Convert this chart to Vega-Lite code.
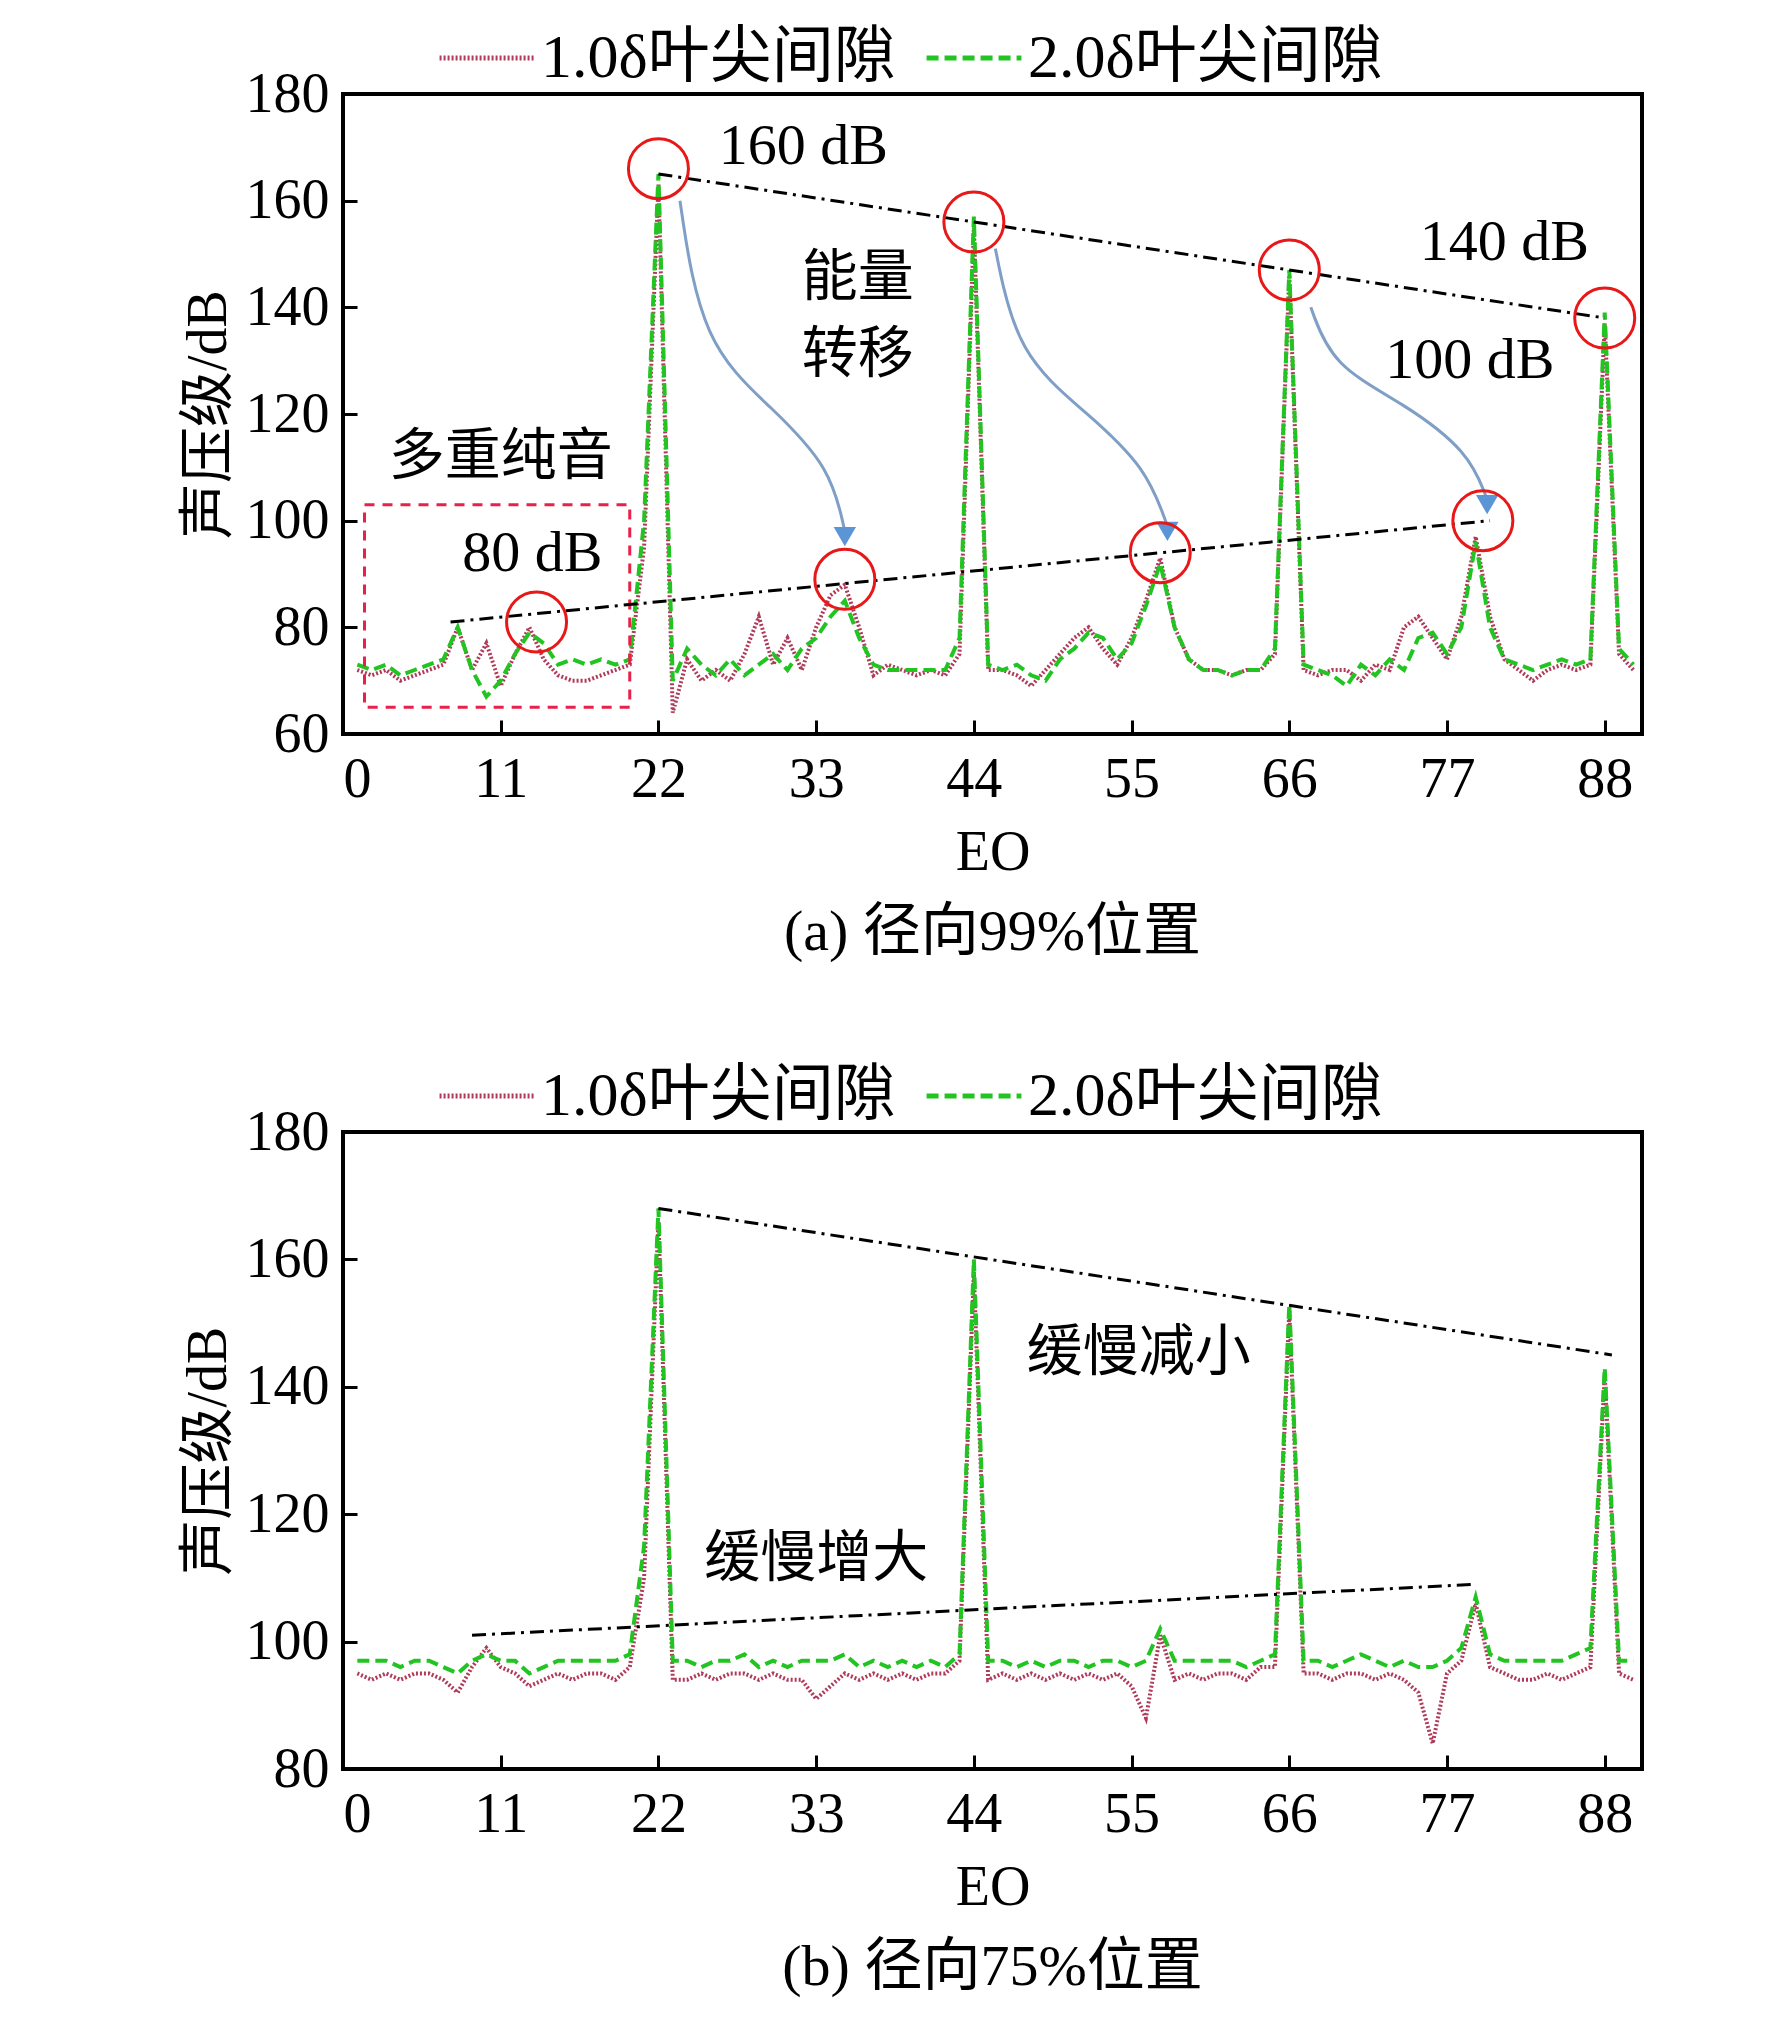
{
  "$schema": "https://vega.github.io/schema/vega-lite/v6.json",
  "background": "white",
  "padding": {"left": 178, "top": 6, "right": 20, "bottom": 10},
  "config": {
    "font": "Liberation Serif, Noto Sans CJK SC",
    "view": {"stroke": "black", "strokeWidth": 4},
    "axis": {"labelFont": "Liberation Serif", "titleFont": "Liberation Serif, Noto Sans CJK SC", "labelFontSize": 56, "titleFontSize": 56, "titleFontWeight": "normal", "labelColor": "black", "titleColor": "black", "domain": false, "grid": false, "tickColor": "black", "tickWidth": 3, "tickSize": -14, "labelPadding": 28, "titlePadding": 8},
    "axisX": {"labelPadding": 32, "titlePadding": 18},
    "legend": {"orient": "none", "legendX": 94, "legendY": -86, "direction": "horizontal", "labelFont": "Liberation Serif, Noto Sans CJK SC", "labelFontSize": 62, "labelLimit": 0, "title": null, "symbolType": "stroke", "symbolSize": 9000, "symbolStrokeWidth": 5, "columnPadding": 20, "padding": 0},
    "title": {"font": "Liberation Serif, Noto Sans CJK SC", "fontSize": 58, "fontWeight": "normal", "orient": "bottom", "offset": 24, "color": "black"}
  },
  "datasets": {
    "a": [
      {"eo":1,"r":72,"g":73},{"eo":2,"r":71,"g":72},{"eo":3,"r":72,"g":73},{"eo":4,"r":70,"g":71},{"eo":5,"r":71,"g":72},{"eo":6,"r":72,"g":73},{"eo":7,"r":73,"g":74},{"eo":8,"r":80,"g":80},{"eo":9,"r":72,"g":72},{"eo":10,"r":77,"g":67},{"eo":11,"r":69,"g":70},{"eo":12,"r":75,"g":75},{"eo":13,"r":80,"g":79},{"eo":14,"r":74,"g":77},{"eo":15,"r":71,"g":73},{"eo":16,"r":70,"g":74},{"eo":17,"r":70,"g":73},{"eo":18,"r":71,"g":74},{"eo":19,"r":72,"g":73},{"eo":20,"r":73,"g":74},{"eo":21,"r":95,"g":100},{"eo":22,"r":163,"g":165},{"eo":23,"r":64,"g":70},{"eo":24,"r":74,"g":76},{"eo":25,"r":70,"g":73},{"eo":26,"r":72,"g":71},{"eo":27,"r":70,"g":74},{"eo":28,"r":75,"g":71},{"eo":29,"r":82,"g":73},{"eo":30,"r":73,"g":75},{"eo":31,"r":78,"g":72},{"eo":32,"r":72,"g":76},{"eo":33,"r":80,"g":78},{"eo":34,"r":86,"g":82},{"eo":35,"r":88,"g":85},{"eo":36,"r":80,"g":78},{"eo":37,"r":71,"g":73},{"eo":38,"r":73,"g":72},{"eo":39,"r":72,"g":72},{"eo":40,"r":71,"g":72},{"eo":41,"r":72,"g":72},{"eo":42,"r":71,"g":72},{"eo":43,"r":75,"g":78},{"eo":44,"r":155,"g":157},{"eo":45,"r":72,"g":73},{"eo":46,"r":72,"g":72},{"eo":47,"r":71,"g":73},{"eo":48,"r":69,"g":71},{"eo":49,"r":72,"g":70},{"eo":50,"r":75,"g":74},{"eo":51,"r":78,"g":76},{"eo":52,"r":80,"g":79},{"eo":53,"r":76,"g":78},{"eo":54,"r":73,"g":74},{"eo":55,"r":78,"g":77},{"eo":56,"r":85,"g":84},{"eo":57,"r":93,"g":92},{"eo":58,"r":80,"g":80},{"eo":59,"r":74,"g":74},{"eo":60,"r":72,"g":72},{"eo":61,"r":72,"g":72},{"eo":62,"r":71,"g":71},{"eo":63,"r":72,"g":72},{"eo":64,"r":72,"g":72},{"eo":65,"r":75,"g":76},{"eo":66,"r":146,"g":147},{"eo":67,"r":72,"g":73},{"eo":68,"r":71,"g":72},{"eo":69,"r":72,"g":71},{"eo":70,"r":72,"g":69},{"eo":71,"r":70,"g":73},{"eo":72,"r":73,"g":71},{"eo":73,"r":72,"g":74},{"eo":74,"r":80,"g":72},{"eo":75,"r":82,"g":78},{"eo":76,"r":78,"g":79},{"eo":77,"r":74,"g":75},{"eo":78,"r":82,"g":80},{"eo":79,"r":97,"g":96},{"eo":80,"r":82,"g":80},{"eo":81,"r":74,"g":74},{"eo":82,"r":72,"g":73},{"eo":83,"r":70,"g":72},{"eo":84,"r":72,"g":73},{"eo":85,"r":73,"g":74},{"eo":86,"r":72,"g":73},{"eo":87,"r":73,"g":74},{"eo":88,"r":137,"g":139},{"eo":89,"r":75,"g":76},{"eo":90,"r":72,"g":73}
    ],
    "b": [
      {"eo":1,"r":95,"g":97},{"eo":2,"r":94,"g":97},{"eo":3,"r":95,"g":97},{"eo":4,"r":94,"g":96},{"eo":5,"r":95,"g":97},{"eo":6,"r":95,"g":97},{"eo":7,"r":94,"g":96},{"eo":8,"r":92,"g":95},{"eo":9,"r":96,"g":97},{"eo":10,"r":99,"g":98},{"eo":11,"r":96,"g":97},{"eo":12,"r":95,"g":97},{"eo":13,"r":93,"g":95},{"eo":14,"r":94,"g":96},{"eo":15,"r":95,"g":97},{"eo":16,"r":94,"g":97},{"eo":17,"r":95,"g":97},{"eo":18,"r":95,"g":97},{"eo":19,"r":94,"g":97},{"eo":20,"r":96,"g":98},{"eo":21,"r":110,"g":115},{"eo":22,"r":166,"g":168},{"eo":23,"r":94,"g":97},{"eo":24,"r":94,"g":97},{"eo":25,"r":95,"g":96},{"eo":26,"r":94,"g":97},{"eo":27,"r":95,"g":97},{"eo":28,"r":95,"g":98},{"eo":29,"r":94,"g":96},{"eo":30,"r":95,"g":97},{"eo":31,"r":94,"g":96},{"eo":32,"r":94,"g":97},{"eo":33,"r":91,"g":97},{"eo":34,"r":93,"g":97},{"eo":35,"r":95,"g":98},{"eo":36,"r":94,"g":96},{"eo":37,"r":95,"g":97},{"eo":38,"r":94,"g":96},{"eo":39,"r":95,"g":97},{"eo":40,"r":94,"g":96},{"eo":41,"r":95,"g":97},{"eo":42,"r":95,"g":96},{"eo":43,"r":97,"g":98},{"eo":44,"r":158,"g":160},{"eo":45,"r":94,"g":97},{"eo":46,"r":95,"g":97},{"eo":47,"r":94,"g":96},{"eo":48,"r":95,"g":97},{"eo":49,"r":94,"g":96},{"eo":50,"r":95,"g":97},{"eo":51,"r":94,"g":97},{"eo":52,"r":95,"g":96},{"eo":53,"r":94,"g":97},{"eo":54,"r":95,"g":97},{"eo":55,"r":93,"g":96},{"eo":56,"r":88,"g":97},{"eo":57,"r":101,"g":102},{"eo":58,"r":94,"g":97},{"eo":59,"r":95,"g":97},{"eo":60,"r":94,"g":97},{"eo":61,"r":95,"g":97},{"eo":62,"r":95,"g":97},{"eo":63,"r":94,"g":96},{"eo":64,"r":96,"g":97},{"eo":65,"r":96,"g":98},{"eo":66,"r":152,"g":153},{"eo":67,"r":95,"g":97},{"eo":68,"r":95,"g":97},{"eo":69,"r":94,"g":96},{"eo":70,"r":95,"g":97},{"eo":71,"r":95,"g":98},{"eo":72,"r":94,"g":97},{"eo":73,"r":95,"g":96},{"eo":74,"r":94,"g":97},{"eo":75,"r":92,"g":96},{"eo":76,"r":84,"g":96},{"eo":77,"r":95,"g":97},{"eo":78,"r":97,"g":99},{"eo":79,"r":106,"g":107},{"eo":80,"r":96,"g":98},{"eo":81,"r":95,"g":97},{"eo":82,"r":94,"g":97},{"eo":83,"r":94,"g":97},{"eo":84,"r":95,"g":97},{"eo":85,"r":94,"g":97},{"eo":86,"r":95,"g":98},{"eo":87,"r":96,"g":99},{"eo":88,"r":142,"g":143},{"eo":89,"r":95,"g":97},{"eo":90,"r":94,"g":97}
    ]
  },
  "vconcat": [
    {
      "width": 1299, "height": 640,
      "title": "(a) 径向99%位置",
      "layer": [
        {
          "data": {"name": "a"},
          "transform": [{"fold": ["r", "g"], "as": ["s", "v"]}, {"calculate": "datum.s == 'r' ? '1.0δ叶尖间隙' : '2.0δ叶尖间隙'", "as": "series"}],
          "mark": {"type": "line", "strokeWidth": 4, "clip": true},
          "encoding": {
            "x": {"field": "eo", "type": "quantitative", "scale": {"domain": [0, 90.6], "nice": false}, "axis": {"values": [0,11,22,33,44,55,66,77,88]}, "title": "EO"},
            "y": {"field": "v", "type": "quantitative", "scale": {"domain": [60, 180], "nice": false}, "axis": {"values": [60,80,100,120,140,160,180]}, "title": "声压级/dB"},
            "color": {"field": "series", "type": "nominal", "scale": {"domain": ["1.0δ叶尖间隙", "2.0δ叶尖间隙"], "range": ["#b03a5a", "#22c422"]}},
            "strokeDash": {"field": "series", "type": "nominal", "scale": {"domain": ["1.0δ叶尖间隙", "2.0δ叶尖间隙"], "range": [[2, 2], [12, 6]]}}
          }
        },
        {
          "data": {"values": [{"x": 1.5, "x2": 20, "y": 65, "y2": 103}]},
          "mark": {"type": "rect", "fill": null, "stroke": "#e8204a", "strokeWidth": 3, "strokeDash": [10, 8]},
          "encoding": {"x": {"field": "x", "type": "quantitative"}, "x2": {"field": "x2"}, "y": {"field": "y", "type": "quantitative"}, "y2": {"field": "y2"}}
        },
        {
          "data": {"values": [{"k": "u", "x": 22, "y": 165}, {"k": "u", "x": 88, "y": 138}, {"k": "l", "x": 7.5, "y": 81}, {"k": "l", "x": 80, "y": 100}]},
          "mark": {"type": "line", "color": "black", "strokeWidth": 3, "strokeDash": [14, 6, 3, 6]},
          "encoding": {"x": {"field": "x", "type": "quantitative"}, "y": {"field": "y", "type": "quantitative"}, "detail": {"field": "k"}}
        },
        {
          "data": {"values": [{"k": 1, "o": 0, "x": 23.5, "y": 160}, {"k": 1, "o": 1, "x": 25, "y": 133}, {"k": 1, "o": 2, "x": 30, "y": 121}, {"k": 1, "o": 3, "x": 34, "y": 110}, {"k": 1, "o": 4, "x": 35, "y": 98},
            {"k": 2, "o": 0, "x": 45.5, "y": 151}, {"k": 2, "o": 1, "x": 47, "y": 131}, {"k": 2, "o": 2, "x": 52, "y": 120}, {"k": 2, "o": 3, "x": 56, "y": 110}, {"k": 2, "o": 4, "x": 57.5, "y": 99},
            {"k": 3, "o": 0, "x": 67.5, "y": 140}, {"k": 3, "o": 1, "x": 69, "y": 129}, {"k": 3, "o": 2, "x": 74, "y": 122}, {"k": 3, "o": 3, "x": 78.5, "y": 113}, {"k": 3, "o": 4, "x": 79.8, "y": 104}]},
          "mark": {"type": "line", "color": "#7f9fc6", "strokeWidth": 3, "interpolate": "basis"},
          "encoding": {"x": {"field": "x", "type": "quantitative"}, "y": {"field": "y", "type": "quantitative"}, "detail": {"field": "k"}, "order": {"field": "o"}}
        },
        {
          "data": {"values": [{"x": 35, "y": 97}, {"x": 57.5, "y": 98}, {"x": 79.8, "y": 103}]},
          "mark": {"type": "point", "shape": "triangle-down", "filled": true, "color": "#5b95d6", "size": 500, "opacity": 1},
          "encoding": {"x": {"field": "x", "type": "quantitative"}, "y": {"field": "y", "type": "quantitative"}}
        },
        {
          "data": {"values": [{"x": 22, "y": 166}, {"x": 44, "y": 156}, {"x": 66, "y": 147}, {"x": 88, "y": 138}, {"x": 13.5, "y": 81}, {"x": 35, "y": 89}, {"x": 57, "y": 94}, {"x": 79.5, "y": 100}]},
          "mark": {"type": "point", "shape": "circle", "filled": false, "color": "#e81818", "strokeWidth": 3, "size": 3600, "opacity": 1},
          "encoding": {"x": {"field": "x", "type": "quantitative"}, "y": {"field": "y", "type": "quantitative"}}
        },
        {
          "data": {"values": [{"x": 13.2, "y": 93.7, "t": "80 dB"}, {"x": 32.1, "y": 170, "t": "160 dB"}, {"x": 81, "y": 152, "t": "140 dB"}, {"x": 78.6, "y": 130, "t": "100 dB"}]},
          "mark": {"type": "text", "font": "Liberation Serif", "fontSize": 58, "color": "black"},
          "encoding": {"x": {"field": "x", "type": "quantitative"}, "y": {"field": "y", "type": "quantitative"}, "text": {"field": "t"}}
        },
        {
          "data": {"values": [{"x": 35.9, "y": 145.5, "t": "能量"}, {"x": 35.9, "y": 131, "t": "转移"}, {"x": 11, "y": 112, "t": "多重纯音"}]},
          "mark": {"type": "text", "font": "Noto Sans CJK SC", "fontSize": 56, "color": "black"},
          "encoding": {"x": {"field": "x", "type": "quantitative"}, "y": {"field": "y", "type": "quantitative"}, "text": {"field": "t"}}
        }
      ]
    },
    {
      "width": 1299, "height": 637,
      "title": "(b) 径向75%位置",
      "layer": [
        {
          "data": {"name": "b"},
          "transform": [{"fold": ["r", "g"], "as": ["s", "v"]}, {"calculate": "datum.s == 'r' ? '1.0δ叶尖间隙' : '2.0δ叶尖间隙'", "as": "series"}],
          "mark": {"type": "line", "strokeWidth": 4, "clip": true},
          "encoding": {
            "x": {"field": "eo", "type": "quantitative", "scale": {"domain": [0, 90.6], "nice": false}, "axis": {"values": [0,11,22,33,44,55,66,77,88]}, "title": "EO"},
            "y": {"field": "v", "type": "quantitative", "scale": {"domain": [80, 180], "nice": false}, "axis": {"values": [80,100,120,140,160,180]}, "title": "声压级/dB"},
            "color": {"field": "series", "type": "nominal", "scale": {"domain": ["1.0δ叶尖间隙", "2.0δ叶尖间隙"], "range": ["#b03a5a", "#22c422"]}},
            "strokeDash": {"field": "series", "type": "nominal", "scale": {"domain": ["1.0δ叶尖间隙", "2.0δ叶尖间隙"], "range": [[2, 2], [12, 6]]}}
          }
        },
        {
          "data": {"values": [{"k": "u", "x": 22, "y": 168}, {"k": "u", "x": 88.5, "y": 145}, {"k": "l", "x": 9, "y": 101}, {"k": "l", "x": 79, "y": 109}]},
          "mark": {"type": "line", "color": "black", "strokeWidth": 3, "strokeDash": [14, 6, 3, 6]},
          "encoding": {"x": {"field": "x", "type": "quantitative"}, "y": {"field": "y", "type": "quantitative"}, "detail": {"field": "k"}}
        },
        {
          "data": {"values": [{"x": 55.5, "y": 145.3, "t": "缓慢减小"}, {"x": 33, "y": 113, "t": "缓慢增大"}]},
          "mark": {"type": "text", "font": "Noto Sans CJK SC", "fontSize": 56, "color": "black"},
          "encoding": {"x": {"field": "x", "type": "quantitative"}, "y": {"field": "y", "type": "quantitative"}, "text": {"field": "t"}}
        }
      ]
    }
  ],
  "spacing": 80,
  "resolve": {"scale": {"color": "independent", "strokeDash": "independent", "y": "independent"}, "legend": {"color": "independent", "strokeDash": "independent"}}
}
